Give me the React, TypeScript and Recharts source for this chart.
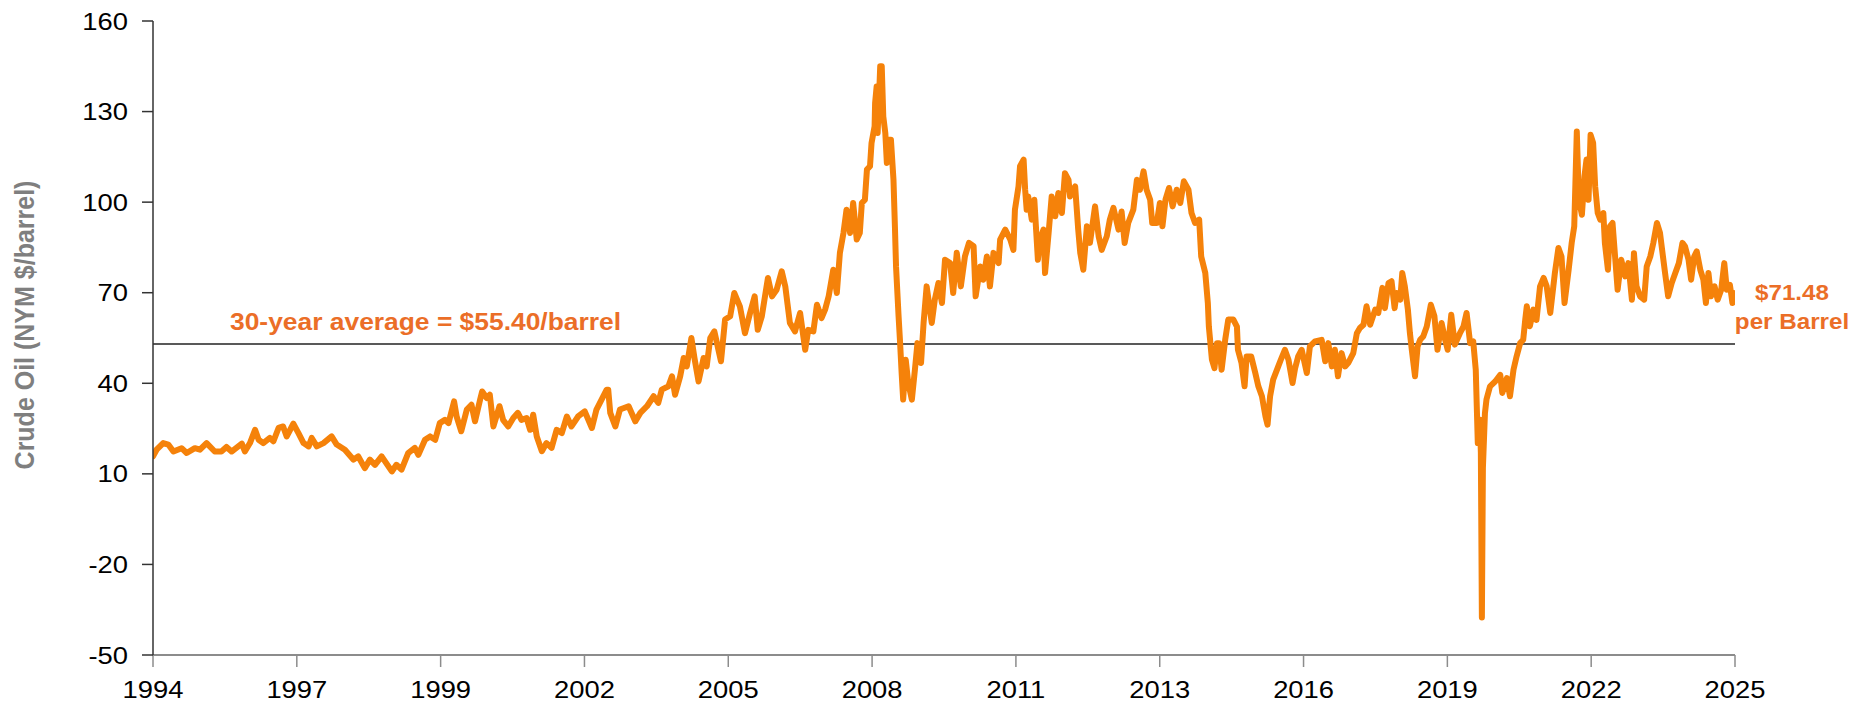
import React from "react";
import { LineChart, Line, XAxis, YAxis, ReferenceLine } from "recharts";

const years: number[] = [
  1994.2, 1994.27, 1994.4, 1994.5, 1994.6, 1994.76, 1994.86, 1995.02, 1995.12, 1995.25, 1995.41, 1995.54, 1995.64, 1995.74, 1995.94, 1996.0, 1996.1, 1996.2, 1996.27, 1996.36, 1996.49, 1996.56, 1996.66, 1996.75, 1996.82, 1996.95, 1997.05, 1997.15, 1997.25, 1997.31, 1997.41, 1997.54, 1997.7, 1997.8, 1997.96, 1998.13, 1998.22, 1998.35, 1998.45,
  1998.55, 1998.68, 1998.88, 1998.97, 1999.07, 1999.2, 1999.33, 1999.4, 1999.53, 1999.63, 1999.73, 1999.82, 1999.92, 1999.99, 2000.1, 2000.15, 2000.24, 2000.35, 2000.44, 2000.51, 2000.61, 2000.65, 2000.74, 2000.8, 2000.87, 2000.99, 2001.06, 2001.16, 2001.26, 2001.35, 2001.42, 2001.52, 2001.59, 2001.65, 2001.72, 2001.82, 2001.91, 2002.01, 2002.11, 2002.21, 2002.31, 2002.4, 2002.53, 2002.66, 2002.8, 2002.89, 2002.99, 2003.09,
  2003.12, 2003.16, 2003.26, 2003.35, 2003.52, 2003.65, 2003.75, 2003.88, 2004.01, 2004.1, 2004.17, 2004.3, 2004.37, 2004.43, 2004.53, 2004.6, 2004.66, 2004.75, 2004.81, 2004.89, 2004.99, 2005.05, 2005.12, 2005.2, 2005.28, 2005.33, 2005.41, 2005.51, 2005.59, 2005.7, 2005.8, 2005.9, 2005.99, 2006.05, 2006.13, 2006.25, 2006.33, 2006.42, 2006.52, 2006.59, 2006.68, 2006.78, 2006.88, 2006.98, 2007.04, 2007.14, 2007.21, 2007.3, 2007.37, 2007.44, 2007.53, 2007.6, 2007.66, 2007.73, 2007.79,
  2007.86, 2007.92, 2007.99, 2008.05, 2008.09, 2008.15, 2008.19, 2008.25, 2008.28, 2008.34, 2008.35, 2008.38, 2008.4, 2008.45, 2008.48, 2008.51, 2008.55, 2008.58, 2008.61, 2008.66, 2008.71, 2008.74, 2008.76, 2008.81, 2008.84, 2008.87, 2008.9, 2008.95, 2009.0, 2009.07, 2009.13, 2009.18, 2009.25, 2009.3, 2009.36, 2009.46, 2009.52, 2009.59, 2009.66, 2009.72, 2009.82, 2009.88, 2009.95, 2010.03, 2010.11, 2010.19, 2010.28, 2010.32, 2010.41, 2010.47, 2010.54, 2010.6, 2010.67, 2010.77, 2010.8, 2010.9, 2011.0, 2011.06, 2011.09, 2011.16, 2011.19, 2011.26, 2011.29, 2011.32, 2011.35, 2011.42, 2011.47, 2011.54, 2011.58, 2011.65, 2011.68, 2011.75, 2011.81, 2011.88, 2011.94, 2012.01, 2012.07, 2012.14,
  2012.17, 2012.27, 2012.33, 2012.37, 2012.43, 2012.5, 2012.56, 2012.66, 2012.73, 2012.79, 2012.89, 2012.95, 2013.02, 2013.12, 2013.18, 2013.24, 2013.31, 2013.41, 2013.48, 2013.54, 2013.61, 2013.67, 2013.74, 2013.78, 2013.87, 2013.93, 2013.98, 2014.04, 2014.11, 2014.18, 2014.26, 2014.33, 2014.4, 2014.49, 2014.55, 2014.62, 2014.7, 2014.74, 2014.82, 2014.87, 2014.89, 2014.95, 2015.0, 2015.05, 2015.09, 2015.14, 2015.21, 2015.27, 2015.37, 2015.44, 2015.46, 2015.53, 2015.59, 2015.63, 2015.72, 2015.8, 2015.86, 2015.93, 2016.0, 2016.04, 2016.09, 2016.15, 2016.25, 2016.3, 2016.38, 2016.45, 2016.53, 2016.58, 2016.64, 2016.71,
  2016.81, 2016.87, 2016.97, 2017.1, 2017.17, 2017.23, 2017.3, 2017.36, 2017.42, 2017.49, 2017.56, 2017.62, 2017.72, 2017.79, 2017.85, 2017.92, 2017.98, 2018.05, 2018.15, 2018.21, 2018.29, 2018.34, 2018.41, 2018.47, 2018.53, 2018.57, 2018.64, 2018.68, 2018.73, 2018.79, 2018.83, 2018.87, 2018.93, 2018.98, 2019.03, 2019.09, 2019.16, 2019.24, 2019.31, 2019.37, 2019.45, 2019.52, 2019.57, 2019.64, 2019.71, 2019.81, 2019.88, 2019.94, 2020.01, 2020.07, 2020.12, 2020.14, 2020.16, 2020.2, 2020.22, 2020.24, 2020.26, 2020.3, 2020.33, 2020.4, 2020.5, 2020.6, 2020.64, 2020.73, 2020.79, 2020.86, 2020.92, 2020.99, 2021.05, 2021.09,
  2021.12, 2021.18, 2021.25, 2021.31, 2021.38, 2021.45, 2021.51, 2021.58, 2021.67, 2021.74, 2021.8, 2021.86, 2021.94, 2022.0, 2022.05, 2022.1, 2022.14, 2022.2, 2022.25, 2022.29, 2022.33, 2022.37, 2022.42, 2022.46, 2022.51, 2022.56, 2022.62, 2022.65, 2022.71, 2022.75, 2022.8, 2022.85, 2022.9, 2022.97, 2023.05, 2023.11, 2023.18, 2023.22, 2023.27, 2023.34, 2023.42, 2023.47, 2023.54, 2023.6, 2023.67, 2023.73, 2023.78, 2023.83, 2023.89, 2023.96, 2024.03, 2024.1, 2024.17, 2024.22, 2024.29, 2024.34, 2024.4, 2024.45, 2024.52, 2024.58, 2024.63, 2024.68, 2024.73, 2024.8, 2024.86, 2024.93, 2024.99, 2025.04, 2025.1, 2025.15, 2025.17,
];

const prices: number[] = [
  15.8, 18.0, 20.2, 19.7, 17.4, 18.5, 16.9, 18.5, 18.0, 20.2, 17.4, 17.4, 18.9, 17.4, 20.0, 17.4, 20.2, 24.6, 21.3, 20.2, 21.9, 20.8, 25.2, 25.7, 22.4, 26.6, 23.5, 20.2, 19.1, 21.9, 19.1, 20.2, 22.4, 19.7, 18.0, 14.7, 15.8, 11.9, 14.7,
  13.0, 15.8, 10.8, 13.0, 11.4, 16.9, 18.6, 16.3, 21.3, 22.4, 21.3, 26.8, 27.9, 26.8, 34.0, 29.0, 24.1, 31.3, 32.9, 27.4, 34.6, 37.3, 35.1, 36.2, 25.7, 32.4, 27.9, 25.7, 28.5, 30.2, 27.9, 28.5, 24.6, 29.6, 22.4, 17.5, 20.2, 18.6, 24.6, 23.5, 29.0, 25.7, 29.0, 30.7, 25.2, 31.3, 34.6, 37.9,
  37.9, 30.2, 25.7, 31.3, 32.4, 27.4, 30.2, 32.4, 35.7, 33.5, 37.9, 39.0, 42.3, 36.2, 42.3, 48.4, 45.6, 55.0, 48.4, 40.6, 48.4, 45.6, 55.0, 57.2, 51.1, 47.3, 61.1, 62.2, 69.9, 65.5, 56.6, 63.3, 68.8, 57.7, 62.2, 74.9, 68.8, 71.0, 77.1, 72.1, 60.0, 57.2, 63.3, 51.1, 57.7, 57.2, 66.0, 61.6, 64.4, 68.8, 77.6, 69.9, 83.2, 89.8, 97.5,
  89.8, 99.7, 87.6, 89.8, 99.7, 100.8, 110.8, 111.9, 119.6, 125.1, 132.8, 138.3, 122.9, 145.0, 145.0, 128.4, 122.9, 113.0, 120.7, 120.7, 107.4, 90.9, 78.7, 62.2, 53.3, 43.4, 34.6, 47.8, 40.1, 34.6, 44.5, 53.3, 46.7, 60.0, 72.1, 60.0, 67.7, 73.2, 66.6, 80.9, 79.8, 69.9, 83.2, 72.1, 82.0, 86.5, 85.4, 68.8, 78.7, 74.3, 82.0, 72.1, 83.2, 79.8, 87.6, 90.9, 87.6, 84.2, 97.5, 105.2, 111.9, 114.1, 104.1, 97.5, 101.9, 94.2, 100.8, 80.9, 87.6, 90.9, 76.5, 89.8, 101.9, 95.3, 103.0, 96.4, 109.6, 107.4,
  101.9, 105.2, 90.9, 83.2, 77.6, 92.0, 86.5, 98.6, 88.7, 84.2, 88.7, 94.2, 98.1, 90.9, 96.9, 86.5, 93.1, 97.5, 107.4, 104.1, 110.2, 104.1, 100.8, 93.1, 93.1, 99.7, 92.0, 100.8, 104.7, 98.6, 104.1, 99.7, 106.9, 104.1, 96.4, 93.1, 94.2, 82.0, 76.5, 66.6, 58.8, 47.8, 45.0, 53.3, 53.3, 44.5, 54.4, 61.1, 61.1, 58.8, 51.1, 46.7, 39.0, 48.9, 48.9, 43.4, 39.0, 35.7, 29.0, 26.3, 35.7, 41.2, 45.6, 47.8, 51.1, 47.8, 40.1, 45.0, 48.9, 51.1,
  43.4, 52.2, 53.9, 54.4, 47.3, 53.3, 45.6, 51.1, 42.3, 50.0, 45.6, 46.7, 50.0, 56.6, 58.3, 59.4, 65.5, 59.4, 64.4, 63.3, 71.6, 64.9, 73.2, 73.8, 64.9, 69.9, 67.7, 76.5, 72.1, 64.4, 56.6, 50.6, 42.3, 52.2, 54.4, 55.5, 58.8, 66.0, 62.2, 51.1, 60.0, 54.4, 51.1, 62.7, 52.8, 56.6, 58.8, 63.3, 53.3, 53.9, 44.5, 32.3, 20.2, 27.9, 17.0, -37.6, 12.0, 30.1, 34.6, 39.0, 40.6, 42.8, 36.8, 41.7, 35.7, 44.5, 48.9, 53.3, 54.4, 61.1,
  65.5, 58.9, 64.4, 61.0, 72.1, 74.9, 72.1, 63.3, 76.5, 84.8, 82.0, 66.6, 77.6, 86.5, 92.0, 123.4, 100.8, 95.8, 108.5, 114.1, 100.8, 122.3, 119.6, 105.2, 96.4, 94.2, 96.4, 86.5, 77.6, 92.0, 93.1, 82.0, 71.0, 80.9, 75.4, 79.8, 67.7, 83.1, 72.1, 68.8, 67.7, 78.7, 82.0, 86.5, 93.1, 89.8, 83.1, 76.5, 68.8, 73.2, 76.5, 79.8, 86.5, 85.4, 80.9, 74.3, 82.0, 83.7, 77.6, 74.3, 66.6, 76.5, 68.8, 72.1, 67.7, 71.0, 79.8, 71.0, 72.6, 66.6, 69.9,
];

const xTickLabels: string[] = ["1994", "1997", "1999", "2002", "2005", "2008", "2011", "2013", "2016", "2019", "2022", "2025"];
const yTicks: number[] = [-50, -20, 10, 40, 70, 100, 130, 160];
const averageLevel = 53;
const averageLabel = "30-year average = $55.40/barrel";
const lastLabel = ["$71.48", "per Barrel"];
const yTitle = "Crude Oil (NYM $/barrel)";

const X_START = 1994.2;
const X_END = 2025.2;
const xStep = (X_END - X_START) / (xTickLabels.length - 1);
const xTicks = xTickLabels.map((_, i) => X_START + i * xStep);

const data = years.map((y, i) => ({ year: y, price: prices[i] }));

const FONT = "'Liberation Sans', Arial, sans-serif";
const SX = 1.14;

const XTick = (props: any) => {
  const { x, y, payload } = props;
  const idx = Math.round((payload.value - X_START) / xStep);
  return (
    <text transform={`translate(${x},${y}) scale(${SX},1)`} textAnchor="middle" dy="0.71em" fontSize={24} fill="#000" fontFamily={FONT}>
      {xTickLabels[idx]}
    </text>
  );
};

const YTick = (props: any) => {
  const { x, y, payload } = props;
  return (
    <text transform={`translate(${x},${y}) scale(${SX},1)`} textAnchor="end" dy="0.355em" fontSize={24} fill="#000" fontFamily={FONT}>
      {String(payload.value)}
    </text>
  );
};

export default function App() {
  return (
    <div style={{ position: "absolute", left: 0, top: 0, width: 1858, height: 707, background: "#fff" }}>
      <LineChart width={1858} height={707} data={data} margin={{ top: 21, right: 123, bottom: 0, left: 0 }}>
        <XAxis
          dataKey="year"
          type="number"
          domain={[X_START, X_END]}
          ticks={xTicks}
          tick={<XTick />}
          interval={0}
          height={52}
          axisLine={{ stroke: "#8c8c8c", strokeWidth: 2 }}
          tickLine={{ stroke: "#8c8c8c", strokeWidth: 1.5 }}
          tickSize={12}
          tickMargin={14}
          allowDataOverflow
        />
        <YAxis
          type="number"
          domain={[-50, 160]}
          ticks={yTicks}
          tick={<YTick />}
          interval={0}
          width={153}
          axisLine={{ stroke: "#333", strokeWidth: 1.5 }}
          tickLine={{ stroke: "#333", strokeWidth: 1.5 }}
          tickSize={11}
          tickMargin={14}
        />
        <ReferenceLine y={averageLevel} stroke="#595959" strokeWidth={2} ifOverflow="extendDomain" />
        <Line type="linear" dataKey="price" stroke="#F5820A" strokeWidth={6} dot={false} isAnimationActive={false} strokeLinejoin="round" strokeLinecap="round" />
      </LineChart>
      <svg width={1858} height={707} style={{ position: "absolute", left: 0, top: 0, pointerEvents: "none" }}>
        <text transform={`translate(34,325) scale(${SX},1) rotate(-90)`} textAnchor="middle" fontSize={25} fontWeight="bold" fill="#7f7f7f" fontFamily={FONT}>
          {yTitle}
        </text>
        <text transform={`translate(230,330) scale(1.1,1)`} textAnchor="start" fontSize={24} fontWeight="bold" fill="#EB6E27" fontFamily={FONT}>
          {averageLabel}
        </text>
        <text transform={`translate(1792,300) scale(1.1,1)`} textAnchor="middle" fontSize={22} fontWeight="bold" fill="#EB6E27" fontFamily={FONT}>
          {lastLabel[0]}
        </text>
        <text transform={`translate(1792,329) scale(1.1,1)`} textAnchor="middle" fontSize={22} fontWeight="bold" fill="#EB6E27" fontFamily={FONT}>
          {lastLabel[1]}
        </text>
      </svg>
    </div>
  );
}
